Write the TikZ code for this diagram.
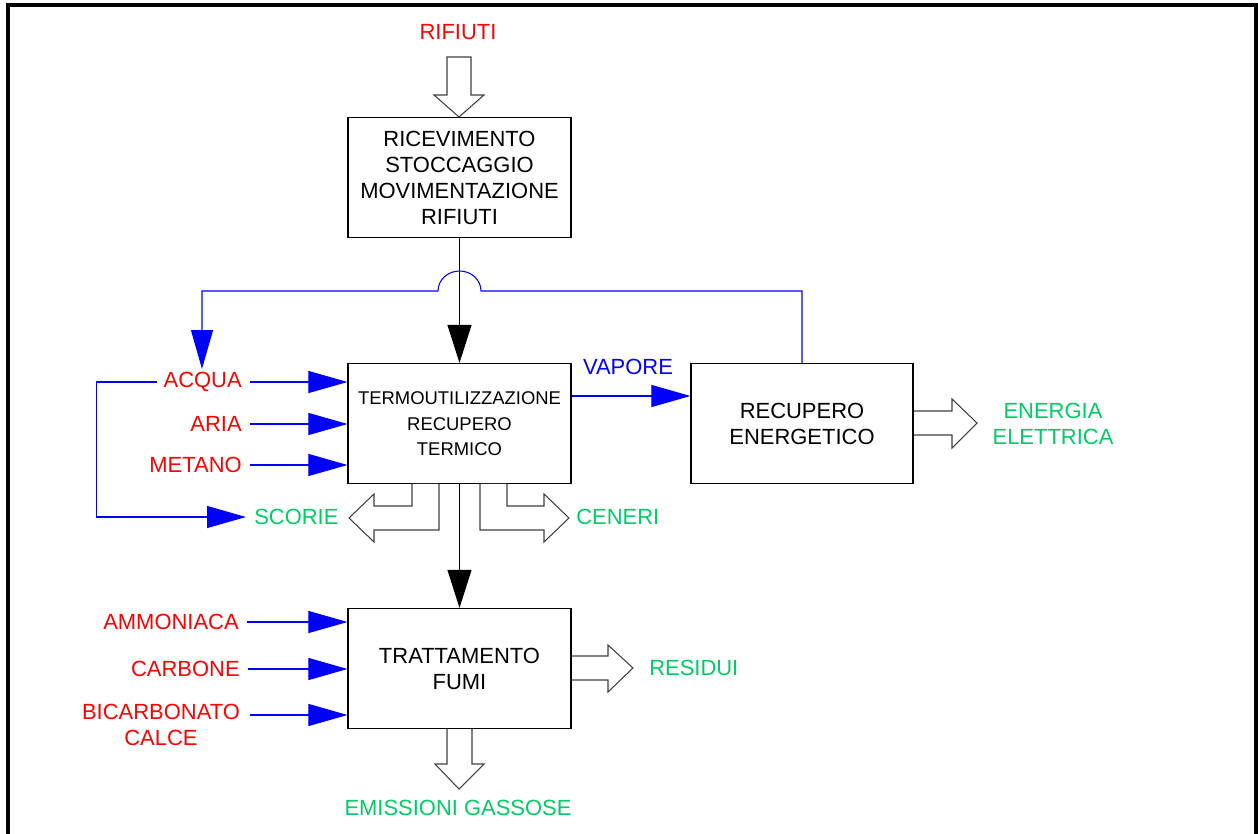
\documentclass[tikz,border=0pt]{standalone}
\usepackage{fontspec}
\setmainfont{Liberation Sans}
\usetikzlibrary{arrows.meta}
\definecolor{inred}{RGB}{255,0,0}
\definecolor{outgreen}{RGB}{0,204,102}
\definecolor{flowblue}{RGB}{0,0,255}
\tikzset{
    block/.style={draw, line width=0.7pt, minimum width=4.46cm, minimum height=2.4cm, align=center, font=\fontsize{12.5}{14.8}\selectfont},
    lbl/.style={inner sep=0pt, inner xsep=4.5pt, align=center, font=\fontsize{12.5}{14.4}\selectfont},
    flowb/.style={flowblue, line width=0.6pt, -{Triangle[length=0.78cm, width=0.44cm]}},
    flowk/.style={black, line width=0.6pt, -{Triangle[length=0.76cm, width=0.48cm]}},
    hollow/.style={black!75, line width=0.6pt, fill=white}
}
\begin{document}
\begin{tikzpicture}[x=0.02cm, y=-0.02cm]
    \useasboundingbox (0,0) rectangle (1258,834);
    \draw[line width=1.9pt] (8,840) -- (8,5) -- (1256,5) -- (1256,840);

    % blocchi
    \node[block] (ric) at (459.5,177.5) {RICEVIMENTO\\STOCCAGGIO\\MOVIMENTAZIONE\\RIFIUTI};
    \node[block, font=\fontsize{10.5}{14.2}\selectfont] (termo) at (459.5,423.5) {TERMOUTILIZZAZIONE\\[1pt]RECUPERO\\TERMICO};
    \node[block, minimum width=4.44cm] (recen) at (802,423.5) {RECUPERO\\ENERGETICO};
    \node[block] (fumi) at (459.5,668.5) {TRATTAMENTO\\FUMI};

    % ingressi e uscite
    \node[lbl, text=inred] (rifiuti) at (458,32) {RIFIUTI};
    \node[lbl, text=inred, anchor=east] (acqua) at (250,382) {ACQUA};
    \node[lbl, text=inred, anchor=east] (aria) at (250,424) {ARIA};
    \node[lbl, text=inred, anchor=east] (metano) at (250,465) {METANO};
    \node[lbl, text=inred, anchor=east] (ammon) at (247,622) {AMMONIACA};
    \node[lbl, text=inred, anchor=east] (carb) at (248,669) {CARBONE};
    \node[lbl, text=inred] (bicarb) at (161,725) {BICARBONATO\\CALCE};
    \node[lbl, text=flowblue] (vapore) at (628,367) {VAPORE};
    \node[lbl, text=outgreen, anchor=west] (scorie) at (246,517) {SCORIE};
    \node[lbl, text=outgreen, anchor=west] (ceneri) at (568,517) {CENERI};
    \node[lbl, text=outgreen, anchor=west] (residui) at (641,668) {RESIDUI};
    \node[lbl, text=outgreen] (energia) at (1053,424) {ENERGIA\\ELETTRICA};
    \node[lbl, text=outgreen] (emiss) at (458,808) {EMISSIONI GASSOSE};

    \coordinate (vin) at (572,396);
    \coordinate (bcin) at (250,715);
    \coordinate (ain) at (202,369);

    % flussi
    \draw[flowk] (ric) -- (termo);
    \draw[flowk] (termo) -- (fumi);
    \draw[flowb] (acqua) -- (acqua -| termo.west);
    \draw[flowb] (aria) -- (aria -| termo.west);
    \draw[flowb] (metano) -- (metano -| termo.west);
    \draw[flowb] (ammon) -- (ammon -| fumi.west);
    \draw[flowb] (carb) -- (carb -| fumi.west);
    \draw[flowb] (bcin) -- (bcin -| fumi.west);
    \draw[flowb] (vin) -- (vin -| recen.west);
    \draw[flowb] ([xshift=0.04cm]acqua.west) -- ++(-61,0) |- (scorie.west);
    \draw[flowb] (recen.north) |- (481,291) arc[start angle=0, end angle=180, x radius=0.43cm, y radius=0.4cm] -| (ain);

    % frecce vuote
    \draw[hollow] (447,57) -- (471,57) -- (471,95) -- (484,95) -- (459,117) -- (434,95) -- (447,95) -- cycle;
    \draw[hollow] (914,411) -- (952,411) -- (952,399) -- (977,423) -- (952,448) -- (952,435) -- (914,435);
    \draw[hollow] (572,656) -- (608,656) -- (608,645) -- (633,668) -- (608,692) -- (608,680) -- (572,680);
    \draw[hollow] (447,729) -- (447,764) -- (435,764) -- (459,789) -- (484,764) -- (472,764) -- (472,729);
    \draw[hollow] (412,484) -- (412,506) -- (374,506) -- (374,494) -- (349,518) -- (374,542) -- (374,530) -- (439,530) -- (439,484);
    \draw[hollow] (507,484) -- (507,506) -- (544,506) -- (544,494) -- (569,518) -- (544,542) -- (544,530) -- (480,530) -- (480,484);
\end{tikzpicture}
\end{document}
